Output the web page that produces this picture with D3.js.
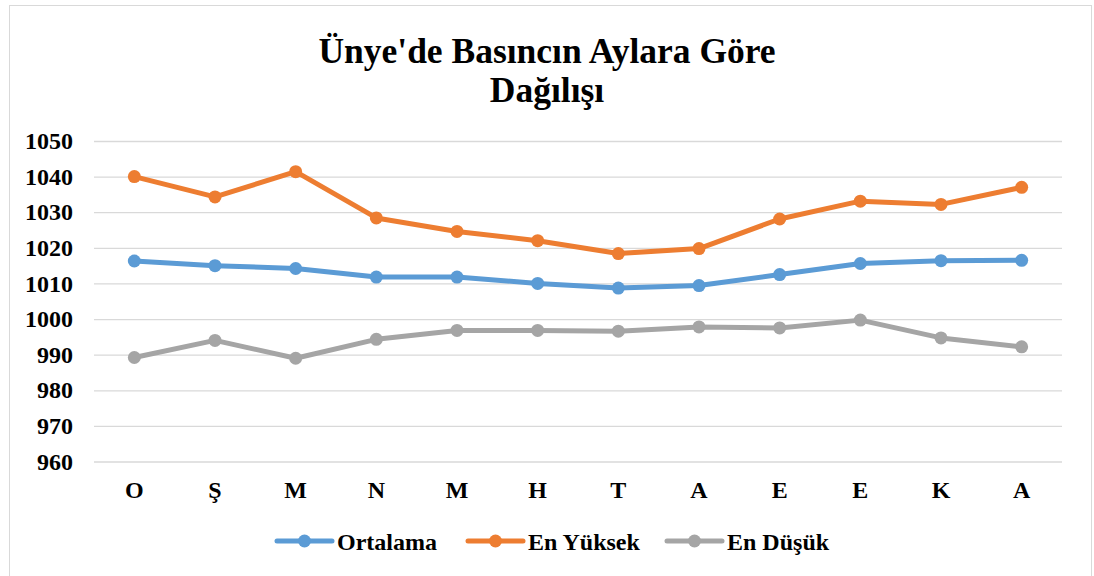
<!DOCTYPE html>
<html><head><meta charset="utf-8">
<script src="https://cdn.jsdelivr.net/npm/d3@7"></script>
<style>
body{margin:0;background:#fff;}
svg{display:block;}
svg text{font-family:'Liberation Serif','Times New Roman',serif !important;font-weight:bold;fill:#000;}
</style></head>
<body><svg id="c" width="1094" height="576"></svg>
<script>
const months = ["O","Ş","M","N","M","H","T","A","E","E","K","A"];
const ortalama = [1016.3,1015.0,1014.2,1011.8,1011.8,1010.0,1008.7,1009.4,1012.5,1015.6,1016.4,1016.5];
const enYuksek = [1040.0,1034.3,1041.4,1028.4,1024.6,1022.0,1018.4,1019.8,1028.1,1033.1,1032.2,1037.0];
const enDusuk  = [989.2,994.0,989.0,994.3,996.8,996.8,996.6,997.8,997.5,999.7,994.7,992.2];
const yTicks = [960,970,980,990,1000,1010,1020,1030,1040,1050];
const seriesNames = ["Ortalama","En Yüksek","En Düşük"];
const seriesColors = ["#5B9BD5","#ED7D31","#A5A5A5"];
const seriesData = [ortalama, enYuksek, enDusuk];
const titleLines = ["Ünye'de Basıncın Aylara Göre","Dağılışı"];

const svg = d3.select("#c");
svg.append("rect").attr("x",9.5).attr("y",5.5).attr("width",1082).attr("height",580)
  .attr("fill","#fff").attr("stroke","#d9d9d9").attr("stroke-width",1);

const pLeft=94, pRight=1062, pTop=141, pBottom=461.5;
const x = d3.scaleBand().domain(d3.range(months.length)).range([pLeft,pRight]);
const y = d3.scaleLinear().domain([960,1050]).range([pBottom,pTop]);

svg.append("g").selectAll("text").data(titleLines).join("text")
  .attr("x",547).attr("y",(d,i)=>63+i*39).attr("text-anchor","middle")
  .style("font-size","35.5px").text(d=>d);

const ya = svg.append("g").attr("transform",`translate(${pLeft},0)`)
  .call(d3.axisLeft(y).tickValues(yTicks).tickSize(-(pRight-pLeft)).tickPadding(21).tickFormat(d3.format("d")));
ya.select(".domain").remove();
ya.selectAll(".tick line").attr("stroke","#d9d9d9").attr("stroke-width",1.3);
ya.selectAll(".tick text").style("font-size","24px");

const xa = svg.append("g").attr("transform",`translate(0,${pBottom})`)
  .call(d3.axisBottom(x).tickSize(0).tickPadding(19).tickFormat(i=>months[i]));
xa.select(".domain").remove();
xa.selectAll(".tick text").style("font-size","24px");

const cx = i => x(i)+x.bandwidth()/2;
const line = d3.line().x((d,i)=>cx(i)).y(d=>y(d));
seriesData.forEach((data,k)=>{
  svg.append("path").datum(data).attr("d",line).attr("fill","none")
    .attr("stroke",seriesColors[k]).attr("stroke-width",5).attr("stroke-linejoin","round").attr("stroke-linecap","round");
  svg.append("g").selectAll("circle").data(data).join("circle")
    .attr("cx",(d,i)=>cx(i)).attr("cy",d=>y(d)).attr("r",6.5).attr("fill",seriesColors[k]);
});

const legX = [277,468,667];
const lg = svg.append("g").selectAll("g").data(seriesNames).join("g")
  .attr("transform",(d,i)=>`translate(${legX[i]},541)`);
lg.append("line").attr("x1",0).attr("x2",55).attr("stroke",(d,i)=>seriesColors[i])
  .attr("stroke-width",5).attr("stroke-linecap","round");
lg.append("circle").attr("cx",27.5).attr("r",6.5).attr("fill",(d,i)=>seriesColors[i]);
lg.append("text").attr("x",60).attr("y",8.5).style("font-size","24px").text(d=>d);
</script></body></html>
